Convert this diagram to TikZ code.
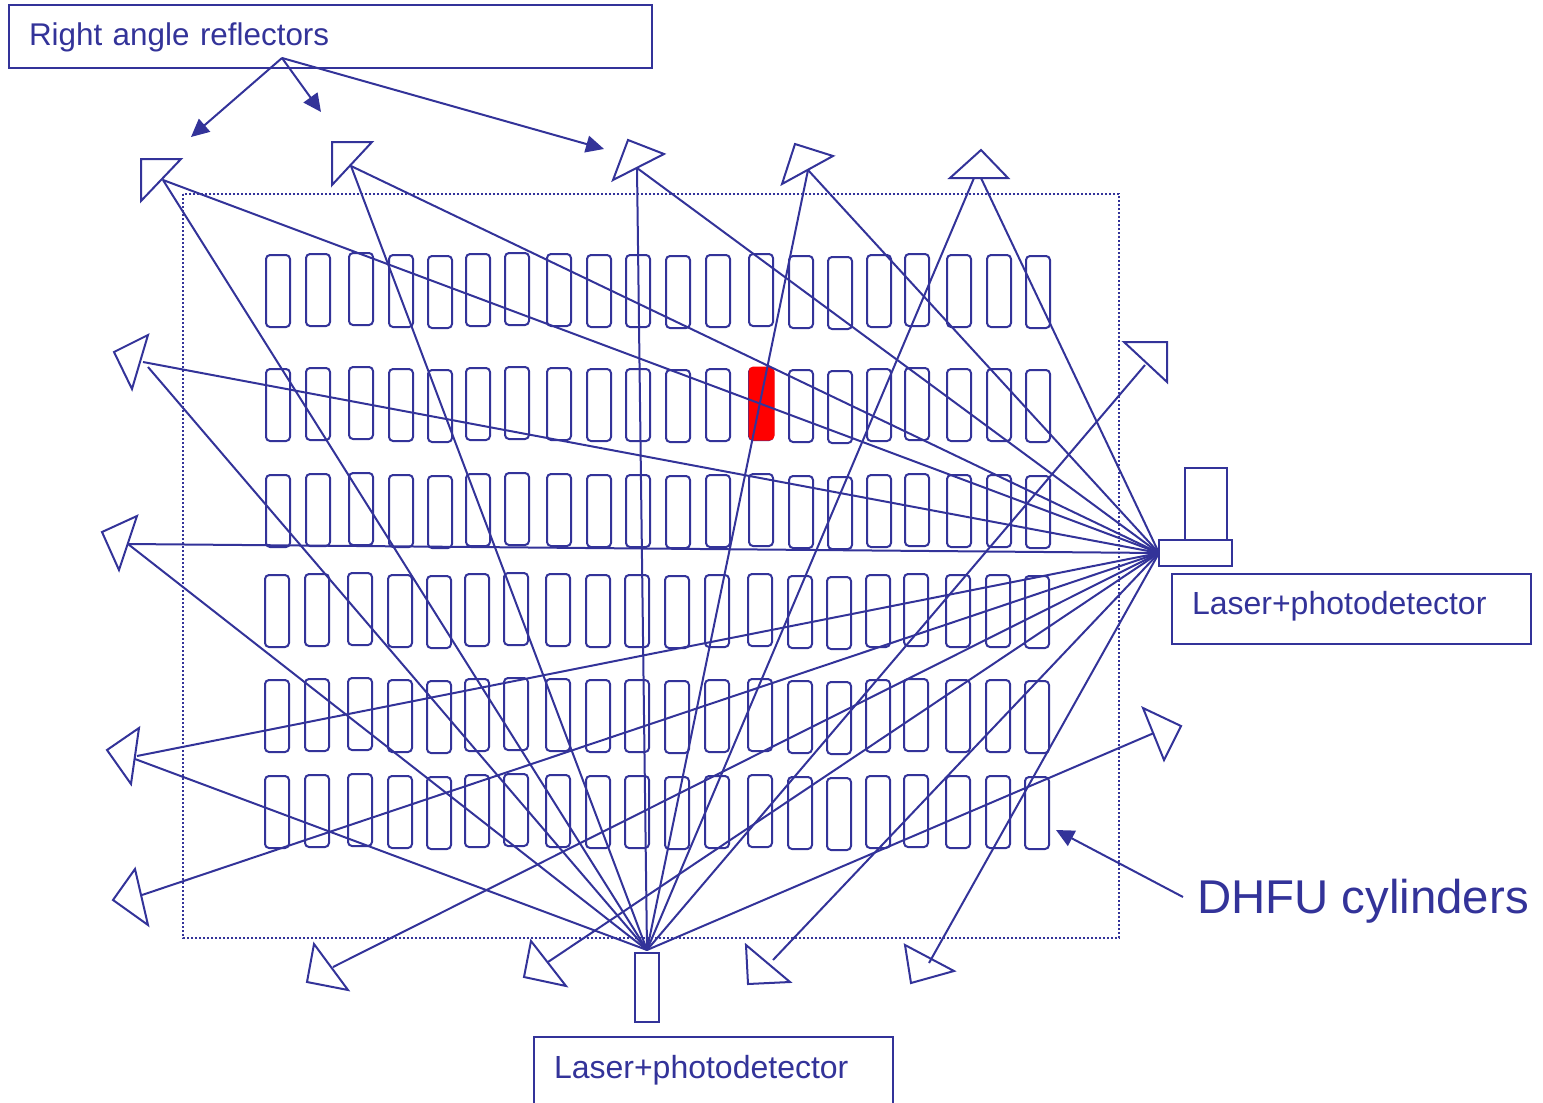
\documentclass[tikz,border=0pt]{standalone}
\usepackage{fontspec}
\setmainfont{Liberation Sans}
\usetikzlibrary{arrows.meta}
\definecolor{inkblue}{HTML}{333399}

\begin{document}
\begin{tikzpicture}%
  [x=1pt,y=-1pt,
   line width=2pt,draw=inkblue,text=inkblue,
   labelbox/.style=
    {draw,anchor=north west,align=left,inner xsep=20pt,inner ysep=0pt,outer sep=0pt,font=\fontsize{32}{36}\selectfont},
   cylinder/.style=
    {draw,rounded corners=4pt,minimum height=72pt,minimum width=24pt,inner sep=0pt},
   hotcylinder/.style=
    {cylinder,draw=red,fill=red,minimum height=72pt,minimum width=24pt},
   reflector/.style={draw,line join=miter},
   housing/.style={draw,anchor=north west,inner sep=0pt,outer sep=0pt},
   beam/.style={draw},
   pointer/.style={-{Triangle[length=18pt,width=17pt]}}
  ]
  \useasboundingbox (0,0) rectangle (1543,1103);
  % hall
  \draw[dotted,dash pattern=on 2pt off 2pt] (183,194) rectangle (1119,938);
  % cylinders
  \foreach \rowy/\rowx [count=\r] in {291/0,405/0,511/0,611/-1,716/-1,812/-1}
    \foreach \cx/\jit [count=\c] in {278/0,318/-1,361/-2,401/0,440/1,478/-1,517/-2,559/-1,
      599/0,638/0,678/1,718/0,761/-1,801/1,840/2,879/0,917/-1,959/0,999/0,1038/1}
      \node[cylinder] (cyl-\r-\c) at (\cx+\rowx,\rowy+\jit) {};
  \node[hotcylinder] (cylhot) at (761.5,403.5) {};
  % reflectors
  \draw[reflector] (141,159) -- (181,159) -- (141,201) -- cycle;
  \draw[reflector] (332,142) -- (372,142) -- (332,185) -- cycle;
  \draw[reflector] (628,140) -- (664,154) -- (613,180) -- cycle;
  \draw[reflector] (795,144) -- (833,156) -- (782,184) -- cycle;
  \draw[reflector] (981,150) -- (1008,178) -- (950,178) -- cycle;
  \draw[reflector] (1124,342) -- (1167,342) -- (1167,382) -- cycle;
  \draw[reflector] (148,335) -- (114,352) -- (132,389) -- cycle;
  \draw[reflector] (137,516) -- (102,532) -- (119,570) -- cycle;
  \draw[reflector] (139,728) -- (107,750) -- (131,784) -- cycle;
  \draw[reflector] (135,869) -- (113,900) -- (148,925) -- cycle;
  \draw[reflector] (314,944) -- (307,982) -- (348,990) -- cycle;
  \draw[reflector] (531,941) -- (524,977) -- (566,986) -- cycle;
  \draw[reflector] (746,945) -- (748,984) -- (790,982) -- cycle;
  \draw[reflector] (905,945) -- (911,983) -- (954,971) -- cycle;
  \draw[reflector] (1143,708) -- (1181,726) -- (1164,760) -- cycle;
  \coordinate (refla) at (163,180);
  \coordinate (reflb) at (351,166);
  \coordinate (reflc) at (637,168);
  \coordinate (refld) at (808,170);
  \coordinate (refle) at (981,178);
  \coordinate (refleb) at (974,178);
  \coordinate (reflf) at (1145,365);
  \coordinate (reflg) at (143,362);
  \coordinate (reflgb) at (148,367);
  \coordinate (reflh) at (128,544);
  \coordinate (refli) at (137,756);
  \coordinate (reflib) at (135,759);
  \coordinate (reflj) at (142,895);
  \coordinate (reflk) at (333,967);
  \coordinate (refll) at (548,962);
  \coordinate (reflm) at (773,960);
  \coordinate (refln) at (929,963);
  \coordinate (reflo) at (1154,733);
  % laser units
  \node[housing,minimum width=42pt,minimum height=72pt] (headside) at (1185,468) {};
  \node[housing,minimum width=73pt,minimum height=26pt,fill=white] (baseside) at (1159,540) {};
  \node[housing,minimum width=24pt,minimum height=69pt] (headfoot) at (635,953) {};
  \coordinate (srcside) at (1159,553);
  \coordinate (srcfoot) at (647,950);
  % beams
  \foreach \refl in {refla,reflb,reflc,refld,refle,reflg,reflh,refli,reflj,reflk,refll,reflm,refln}
    \draw[beam] (srcside) -- (\refl);
  \foreach \refl in {refla,reflb,reflc,refld,refleb,reflf,reflgb,reflh,reflib,reflo}
    \draw[beam] (srcfoot) -- (\refl);
  % labels
  \node[labelbox,font=\fontsize{31.4}{36}\selectfont,text width=603pt,minimum height=63pt,text depth=4pt] (lblrefl) at (9,5) {Right angle reflectors};
  \node[labelbox,text width=319pt,minimum height=70pt,text depth=13pt] (lblside) at (1172,574) {Laser+photodetector};
  \node[labelbox,text width=319pt,minimum height=72pt,text depth=13pt] (lblfoot) at (534,1037) {Laser+photodetector};
  \node[anchor=west,inner sep=0pt,font=\fontsize{47.4}{50}\selectfont] (lblcyl) at (1196,901) {DHFU cylinders};
  \coordinate (reflhub) at (282,58);
  \coordinate (cylhub) at (1183,897);
  \coordinate (tipa) at (191,137);
  \coordinate (tipb) at (321,112);
  \coordinate (tipc) at (604,149);
  \coordinate (tipd) at (1056,830);
  \draw[pointer] (reflhub) -- (tipa);
  \draw[pointer] (reflhub) -- (tipb);
  \draw[pointer] (reflhub) -- (tipc);
  \draw[pointer] (cylhub) -- (tipd);
\end{tikzpicture}
\end{document}
